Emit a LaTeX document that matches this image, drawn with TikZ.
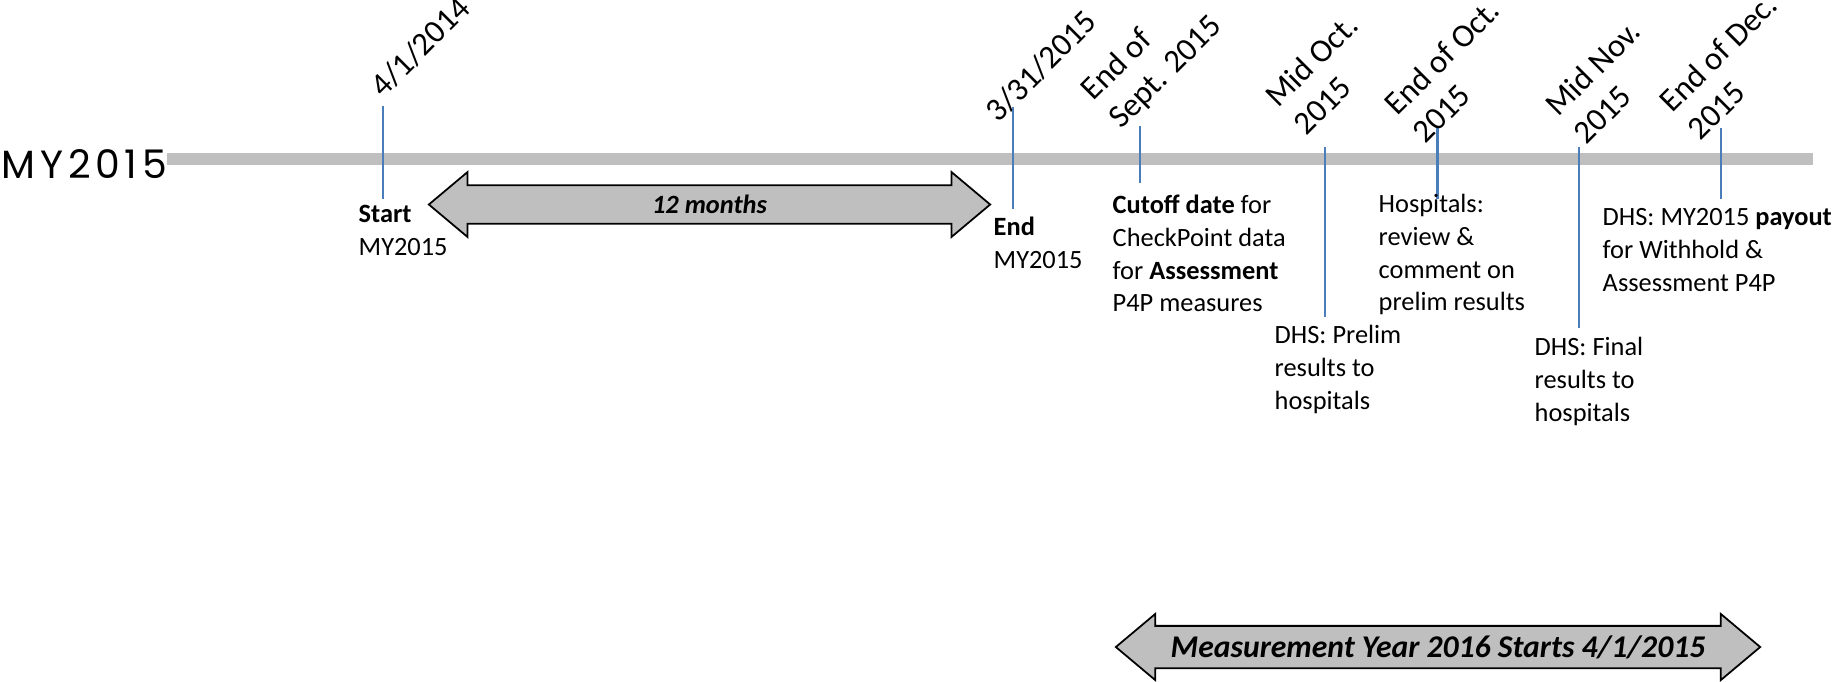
\documentclass[tikz,border=0pt]{standalone}
\usepackage{fontspec}
\setmainfont{Carlito}
\newfontfamily\titlefont[LetterSpace=12]{Poppins}
\usetikzlibrary{shapes.arrows}

\definecolor{bargray}{HTML}{BFBFBF}
\definecolor{tickblue}{HTML}{4A7EBB}

\tikzset{
  datelabel/.style={rotate=45, anchor=south west, inner sep=0pt, align=left,
    font=\fontsize{9.3}{11.2}\selectfont},
  notetext/.style={anchor=north west, inner sep=0pt, align=left,
    font=\fontsize{7.5}{9.3}\selectfont},
  tickline/.style={tickblue, line width=0.55pt},
  spanarrow/.style={double arrow, draw=black, line width=0.5pt, fill=bargray,
    double arrow head extend=0.07cm, double arrow tip angle=80,
    inner sep=0pt, font=\bfseries\itshape}
}

\begin{document}
\begin{tikzpicture}[x=0.01cm, y=-0.01cm]
  \useasboundingbox (0,0) rectangle (1834,681);

  % Barra
  \fill[bargray] (167,153) rectangle (1813,165);
  \node[anchor=base west, inner sep=0pt, font=\titlefont\fontsize{11.2}{13}\selectfont] (title) at (1,178) {MY2015};

  % Marcas
  \foreach \x/\ya/\yb in {383/106/199, 1013/107/209, 1140/126/183, 1325/147/317, 1579/147/328, 1721/128/199}
    \draw[tickline] (\x,\ya) -- (\x,\yb);
  \draw[tickline, line width=0.85pt] (1437,127) -- (1437,199);

  % Fechas
  \node[datelabel] (d1) at (392,108) {4/1/2014\strut};
  \node[datelabel] (d2) at (1007,133) {3/31/2015\strut};
  \node[datelabel] (d3) at (1130,139) {End of\\Sept. 2015\strut};
  \node[datelabel] (d4) at (1315,146) {Mid Oct.\\2015\strut};
  \node[datelabel] (d5) at (1434,154) {End of Oct.\\2015\strut};
  \node[datelabel] (d6) at (1595,155) {Mid Nov.\\2015\strut};
  \node[datelabel] (d7) at (1709,151) {End of Dec.\\2015\strut};

  % Flechas
  \node[spanarrow, minimum height=5.61cm, minimum width=0.65cm,
    font=\fontsize{7.5}{9}\selectfont\bfseries\itshape] (months) at (709.5,204.5) {12 months};
  \node[spanarrow, minimum height=6.44cm, minimum width=0.66cm,
    font=\fontsize{9}{11}\selectfont\bfseries\itshape] (nextyear) at (1438,647) {Measurement Year 2016 Starts 4/1/2015};

  % Textos
  \node[notetext] (start) at (358,199) {\strut\textbf{Start}\\MY2015};
  \node[notetext] (end) at (993,212) {\strut\textbf{End}\\MY2015};
  \node[notetext] (cutoff) at (1112,190) {\strut\textbf{Cutoff date} for\\CheckPoint data\\for \textbf{Assessment}\\P4P measures};
  \node[notetext] (review) at (1378,189) {\strut Hospitals:\\review \&\\comment on\\prelim results};
  \node[notetext] (prelim) at (1274,320) {\strut DHS: Prelim\\results to\\hospitals};
  \node[notetext] (payout) at (1602,202) {\strut DHS: MY2015 \textbf{payout}\\for Withhold \&\\Assessment P4P};
  \node[notetext] (final) at (1534,332) {\strut DHS: Final\\results to\\hospitals};
\end{tikzpicture}
\end{document}
